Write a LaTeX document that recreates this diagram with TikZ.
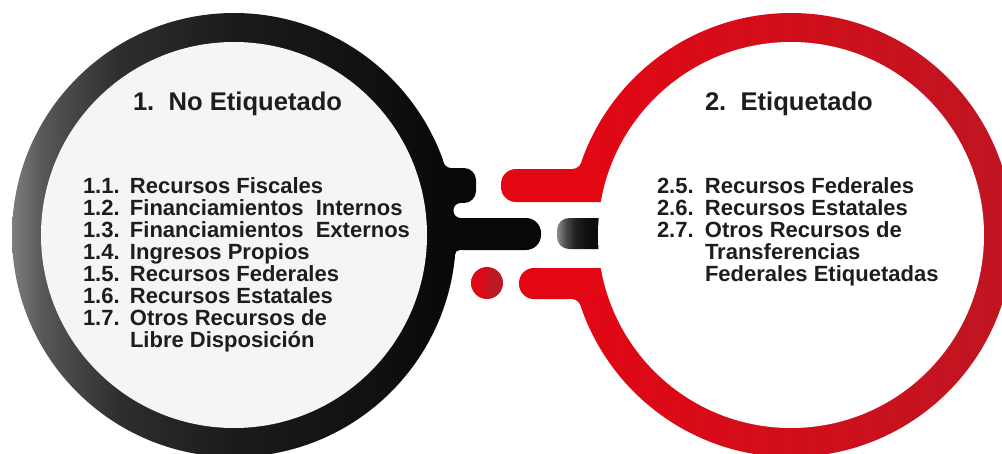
\documentclass[tikz,border=0pt]{standalone}
\usepackage{fontspec}
\setmainfont{Liberation Sans}
\definecolor{lgA}{HTML}{7D7D7D}
\definecolor{lgB}{HTML}{575757}
\definecolor{lgC}{HTML}{2E2E2E}
\definecolor{lgD}{HTML}{1B1B1B}
\definecolor{lgE}{HTML}{111111}
\definecolor{lgF}{HTML}{080808}
\definecolor{blk}{HTML}{080808}
\definecolor{innerL}{HTML}{F5F5F5}
\definecolor{redA}{HTML}{E30613}
\definecolor{redB}{HTML}{BE1622}
\definecolor{dotA}{HTML}{DB0A16}
\definecolor{dotB}{HTML}{BD1826}
\definecolor{gpA}{HTML}{8A8A8A}
\definecolor{gpB}{HTML}{4A4A4A}
\definecolor{gpC}{HTML}{222222}
\definecolor{gpD}{HTML}{0E0E0E}
\definecolor{txt}{HTML}{1D1D1B}
\pgfdeclarehorizontalshading{ringL}{100bp}{color(0bp)=(lgA); color(25bp)=(lgA); color(28.5bp)=(lgB); color(37bp)=(lgC); color(50bp)=(lgD); color(65bp)=(lgE); color(75bp)=(lgF); color(100bp)=(lgF)}
\pgfdeclarehorizontalshading{gpS}{100bp}{color(0bp)=(gpA); color(25bp)=(gpA); color(32bp)=(gpB); color(39bp)=(gpC); color(50bp)=(gpD); color(75bp)=(lgF); color(100bp)=(lgF)}
\pgfdeclarehorizontalshading{dotS}{100bp}{color(0bp)=(dotA); color(25bp)=(dotA); color(46bp)=(dotA); color(54bp)=(dotB); color(75bp)=(dotB); color(100bp)=(dotB)}
\newcommand{\numL}[1]{\makebox[47pt][l]{#1}}
\newcommand{\numR}[1]{\makebox[48pt][l]{#1}}
\begin{document}
\begin{tikzpicture}[x=1pt,y=-1pt,
  listtxt/.style={anchor=base west, inner sep=0pt, outer sep=0pt, text=txt, font=\bfseries\fontsize{22pt}{22pt}\selectfont},
  headtxt/.style={anchor=base west, inner sep=0pt, outer sep=0pt, text=txt, font=\bfseries\fontsize{25.6pt}{26pt}\selectfont}]
\useasboundingbox (0,0) rectangle (1002,453);
\fill[white] (0,0) rectangle (1002,453);
% left ring
\shade[shading=ringL] (234,235) circle (222pt);
\fill[innerL] (234,235) circle (193pt);
% right ring
\shade[left color=redA,right color=redB] (791,235) circle (222pt);
\fill[white] (558,202) rectangle (612,268);
\fill[redA] (620,169) [rounded corners=15pt] -- (501,169) -- (501,202) [sharp corners] -- (620,202) -- cycle;
\fill[redA] (620,268) [rounded corners=15pt] -- (519,268) -- (519,299) [sharp corners] -- (620,299) -- cycle;
\fill[redA] (571.8,169) -- (590,169) -- (581.25,162.28) -- cycle;
\fill[redA] (571.1,299) -- (590,299) -- (580.6,305.8) -- cycle;
\shade[shading=gpS] (620,218) [rounded corners=12pt] -- (557,218) -- (557,249) [sharp corners] -- (620,249) -- cycle;
\fill[white] (791,235) circle (193pt);
\fill[white] (571.8,159) circle (10pt);
\fill[white] (571.1,309) circle (10pt);
% black knob and bar
\fill[blk] (440,168) [rounded corners=12pt] -- (476,168) -- (476,203) [sharp corners] -- (440,203) -- cycle;
\fill[blk] (440,218) [rounded corners=15pt] -- (541,218) -- (541,250) [sharp corners] -- (440,250) -- cycle;
\fill[blk] (450,203) rectangle (461,218);
\fill[white] (461,210.5) circle (7.5pt);
\fill[blk] (451.4,168) -- (435,168) -- (443.8,162.6) -- cycle;
\fill[white] (451.4,160) circle (8pt);
\fill[blk] (460.1,250) -- (445,250) -- (455.1,254.6) -- cycle;
\fill[white] (460.1,255) circle (5pt);
% red dot
\shade[shading=dotS] (487,283) circle (16pt);
% texts
\node[headtxt] (h1) at (133,110) {1.\ \ No Etiquetado};
\node[headtxt] (h2) at (705,110) {2.\ \ Etiquetado};
\node[listtxt] (a1) at (83,193) {\numL{1.1.}Recursos Fiscales};
\node[listtxt] (a2) at (83,215) {\numL{1.2.}Financiamientos\ \ Internos};
\node[listtxt] (a3) at (83,237) {\numL{1.3.}Financiamientos\ \ Externos};
\node[listtxt] (a4) at (83,259) {\numL{1.4.}Ingresos Propios};
\node[listtxt] (a5) at (83,281) {\numL{1.5.}Recursos Federales};
\node[listtxt] (a6) at (83,303) {\numL{1.6.}Recursos Estatales};
\node[listtxt] (a7) at (83,325) {\numL{1.7.}Otros Recursos de};
\node[listtxt] (a8) at (130,347) {Libre Disposición};
\node[listtxt] (b1) at (657,193) {\numR{2.5.}Recursos Federales};
\node[listtxt] (b2) at (657,215) {\numR{2.6.}Recursos Estatales};
\node[listtxt] (b3) at (657,237) {\numR{2.7.}Otros Recursos de};
\node[listtxt] (b4) at (705,259) {Transferencias};
\node[listtxt] (b5) at (705,281) {Federales Etiquetadas};
\end{tikzpicture}
\end{document}
